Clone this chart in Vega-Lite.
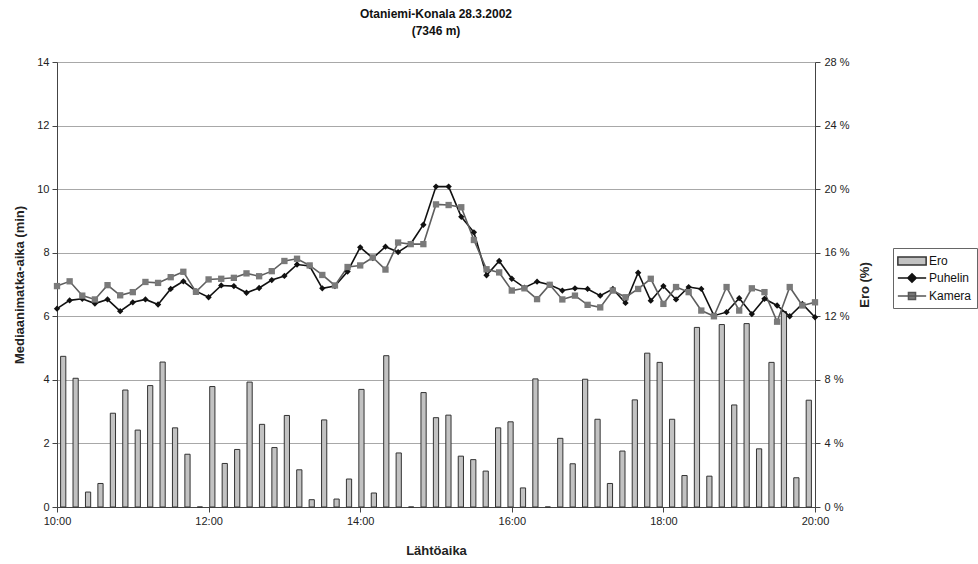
{
  "$schema": "https://vega.github.io/schema/vega-lite/v6.json",
  "width": 758,
  "height": 445,
  "autosize": {"type": "none"},
  "padding": {"left": 57, "top": 62, "right": 163, "bottom": 57},
  "background": "white",
  "title": {
    "text": ["Otaniemi-Konala 28.3.2002", "(7346 m)"],
    "font": "Liberation Sans",
    "fontSize": 12,
    "fontWeight": "bold",
    "lineHeight": 17,
    "color": "#111",
    "anchor": "middle",
    "offset": 18
  },
  "data": {
    "values": [
      {"min": 600, "Ero": 9.48, "Puhelin": 6.24, "Kamera": 6.95},
      {"min": 610, "Ero": 8.1, "Puhelin": 6.5, "Kamera": 7.1},
      {"min": 620, "Ero": 0.94, "Puhelin": 6.55, "Kamera": 6.65},
      {"min": 630, "Ero": 1.48, "Puhelin": 6.4, "Kamera": 6.53},
      {"min": 640, "Ero": 5.9, "Puhelin": 6.53, "Kamera": 6.98},
      {"min": 650, "Ero": 7.36, "Puhelin": 6.16, "Kamera": 6.66},
      {"min": 660, "Ero": 4.84, "Puhelin": 6.44, "Kamera": 6.76},
      {"min": 670, "Ero": 7.64, "Puhelin": 6.53, "Kamera": 7.08},
      {"min": 680, "Ero": 9.12, "Puhelin": 6.37, "Kamera": 7.05},
      {"min": 690, "Ero": 4.98, "Puhelin": 6.86, "Kamera": 7.23},
      {"min": 700, "Ero": 3.32, "Puhelin": 7.1, "Kamera": 7.4},
      {"min": 710, "Ero": 0, "Puhelin": 6.79, "Kamera": 6.77},
      {"min": 720, "Ero": 7.58, "Puhelin": 6.6, "Kamera": 7.16},
      {"min": 730, "Ero": 2.74, "Puhelin": 6.97, "Kamera": 7.18},
      {"min": 740, "Ero": 3.62, "Puhelin": 6.95, "Kamera": 7.21},
      {"min": 750, "Ero": 7.86, "Puhelin": 6.74, "Kamera": 7.35},
      {"min": 760, "Ero": 5.2, "Puhelin": 6.89, "Kamera": 7.26},
      {"min": 770, "Ero": 3.74, "Puhelin": 7.14, "Kamera": 7.42},
      {"min": 780, "Ero": 5.76, "Puhelin": 7.27, "Kamera": 7.74},
      {"min": 790, "Ero": 2.34, "Puhelin": 7.63, "Kamera": 7.81},
      {"min": 800, "Ero": 0.46, "Puhelin": 7.58, "Kamera": 7.6},
      {"min": 810, "Ero": 5.48, "Puhelin": 6.88, "Kamera": 7.3},
      {"min": 820, "Ero": 0.5, "Puhelin": 6.95, "Kamera": 6.97},
      {"min": 830, "Ero": 1.76, "Puhelin": 7.41, "Kamera": 7.55},
      {"min": 840, "Ero": 7.4, "Puhelin": 8.17, "Kamera": 7.6},
      {"min": 850, "Ero": 0.88, "Puhelin": 7.83, "Kamera": 7.85},
      {"min": 860, "Ero": 9.52, "Puhelin": 8.19, "Kamera": 7.47},
      {"min": 870, "Ero": 3.4, "Puhelin": 8.02, "Kamera": 8.32},
      {"min": 880, "Ero": 0, "Puhelin": 8.28, "Kamera": 8.27},
      {"min": 890, "Ero": 7.2, "Puhelin": 8.88, "Kamera": 8.27},
      {"min": 900, "Ero": 5.62, "Puhelin": 10.08, "Kamera": 9.52},
      {"min": 910, "Ero": 5.78, "Puhelin": 10.08, "Kamera": 9.5},
      {"min": 920, "Ero": 3.2, "Puhelin": 9.13, "Kamera": 9.43},
      {"min": 930, "Ero": 2.98, "Puhelin": 8.64, "Kamera": 8.4},
      {"min": 940, "Ero": 2.26, "Puhelin": 7.29, "Kamera": 7.48},
      {"min": 950, "Ero": 4.98, "Puhelin": 7.74, "Kamera": 7.38},
      {"min": 960, "Ero": 5.36, "Puhelin": 7.18, "Kamera": 6.81},
      {"min": 970, "Ero": 1.2, "Puhelin": 6.9, "Kamera": 6.88},
      {"min": 980, "Ero": 8.06, "Puhelin": 7.09, "Kamera": 6.54},
      {"min": 990, "Ero": 0, "Puhelin": 6.99, "Kamera": 6.99},
      {"min": 1000, "Ero": 4.32, "Puhelin": 6.81, "Kamera": 6.53},
      {"min": 1010, "Ero": 2.72, "Puhelin": 6.88, "Kamera": 6.65},
      {"min": 1020, "Ero": 8.04, "Puhelin": 6.86, "Kamera": 6.36},
      {"min": 1030, "Ero": 5.52, "Puhelin": 6.65, "Kamera": 6.28},
      {"min": 1040, "Ero": 1.48, "Puhelin": 6.86, "Kamera": 6.81},
      {"min": 1050, "Ero": 3.52, "Puhelin": 6.42, "Kamera": 6.6},
      {"min": 1060, "Ero": 6.74, "Puhelin": 7.37, "Kamera": 6.86},
      {"min": 1070, "Ero": 9.68, "Puhelin": 6.49, "Kamera": 7.18},
      {"min": 1080, "Ero": 9.1, "Puhelin": 6.95, "Kamera": 6.39},
      {"min": 1090, "Ero": 5.52, "Puhelin": 6.53, "Kamera": 6.92},
      {"min": 1100, "Ero": 1.98, "Puhelin": 6.92, "Kamera": 6.76},
      {"min": 1110, "Ero": 11.3, "Puhelin": 6.86, "Kamera": 6.18},
      {"min": 1120, "Ero": 1.94, "Puhelin": 6.02, "Kamera": 6.0},
      {"min": 1130, "Ero": 11.48, "Puhelin": 6.13, "Kamera": 6.92},
      {"min": 1140, "Ero": 6.42, "Puhelin": 6.57, "Kamera": 6.18},
      {"min": 1150, "Ero": 11.54, "Puhelin": 6.07, "Kamera": 6.88},
      {"min": 1160, "Ero": 3.66, "Puhelin": 6.55, "Kamera": 6.76},
      {"min": 1170, "Ero": 9.1, "Puhelin": 6.34, "Kamera": 5.83},
      {"min": 1180, "Ero": 12.3, "Puhelin": 6.0, "Kamera": 6.92},
      {"min": 1190, "Ero": 1.84, "Puhelin": 6.39, "Kamera": 6.34},
      {"min": 1200, "Ero": 6.72, "Puhelin": 5.97, "Kamera": 6.44}
    ]
  },
  "layer": [
    {
      "mark": {"type": "bar", "fill": "#c2c2c2", "stroke": "#333", "strokeWidth": 1},
      "encoding": {
        "x": {
          "field": "min",
          "type": "ordinal",
          "scale": {"type": "band", "paddingInner": 0.58, "paddingOuter": 0.29},
          "axis": null
        },
        "y": {
          "field": "Ero",
          "type": "quantitative",
          "scale": {"domain": [0, 28], "nice": false},
          "axis": {
            "orient": "right",
            "title": "Ero (%)",
            "titleAngle": 270,
            "titlePadding": 22,
            "values": [0, 4, 8, 12, 16, 20, 24, 28],
            "labelExpr": "datum.value + ' %'",
            "grid": false,
            "labelPadding": 4
          }
        }
      }
    },
    {
      "transform": [{"fold": ["Puhelin", "Kamera"], "as": ["sarja", "arvo"]}],
      "mark": {"type": "line", "strokeWidth": 1.6},
      "encoding": {
        "x": {
          "field": "min",
          "type": "quantitative",
          "scale": {"domain": [600, 1200], "nice": false, "zero": false},
          "axis": {
            "title": "Lähtöaika",
            "values": [600, 720, 840, 960, 1080, 1200],
            "labelExpr": "floor(datum.value / 60) + ':00'",
            "grid": false,
            "labelPadding": 3,
            "titlePadding": 18,
            "labelFlush": false
          }
        },
        "y": {
          "field": "arvo",
          "type": "quantitative",
          "scale": {"domain": [0, 14], "nice": false},
          "axis": {
            "title": "Mediaanimatka-aika (min)",
            "values": [0, 2, 4, 6, 8, 10, 12, 14],
            "grid": true,
            "titlePadding": 10,
            "labelPadding": 3
          }
        },
        "stroke": {
          "field": "sarja",
          "type": "nominal",
          "scale": {"domain": ["Puhelin", "Kamera"], "range": ["#111111", "#5e5e5e"]},
          "legend": null
        }
      }
    },
    {
      "transform": [{"fold": ["Puhelin", "Kamera"], "as": ["sarja", "arvo"]}],
      "mark": {"type": "point", "filled": true, "size": 40, "opacity": 1},
      "encoding": {
        "x": {
          "field": "min",
          "type": "quantitative",
          "scale": {"domain": [600, 1200], "nice": false, "zero": false},
          "axis": null
        },
        "y": {
          "field": "arvo",
          "type": "quantitative",
          "scale": {"domain": [0, 14], "nice": false},
          "axis": null
        },
        "shape": {
          "field": "sarja",
          "type": "nominal",
          "scale": {"domain": ["Puhelin", "Kamera"], "range": ["diamond", "square"]},
          "legend": null
        },
        "color": {
          "field": "sarja",
          "type": "nominal",
          "scale": {"domain": ["Puhelin", "Kamera"], "range": ["#111111", "#7a7a7a"]},
          "legend": null
        }
      }
    },
    {
      "transform": [
        {"fold": ["Ero", "Puhelin", "Kamera"], "as": ["sarja", "arvo"]},
        {"filter": "false"}
      ],
      "mark": {"type": "point", "filled": true, "opacity": 1},
      "encoding": {
        "x": {"field": "min", "type": "quantitative", "axis": null},
        "y": {"field": "arvo", "type": "quantitative", "axis": null},
        "shape": {
          "field": "sarja",
          "type": "nominal",
          "scale": {
            "domain": ["Ero", "Puhelin", "Kamera"],
            "range": [
              "M-2,-0.55H2V0.55H-2Z",
              "M-2,0H2M0,-0.6L0.6,0L0,0.6L-0.6,0Z",
              "M-2,0H2M-0.5,-0.5H0.5V0.5H-0.5Z"
            ]
          },
          "legend": {"title": null}
        },
        "color": {
          "field": "sarja",
          "type": "nominal",
          "scale": {"domain": ["Ero", "Puhelin", "Kamera"], "range": ["#c2c2c2", "#111111", "#7a7a7a"]},
          "legend": {"title": null}
        },
        "stroke": {
          "field": "sarja",
          "type": "nominal",
          "scale": {"domain": ["Ero", "Puhelin", "Kamera"], "range": ["#333333", "#111111", "#555555"]},
          "legend": {"title": null}
        }
      }
    }
  ],
  "resolve": {
    "scale": {
      "x": "independent",
      "y": "independent",
      "shape": "independent",
      "color": "independent",
      "stroke": "independent"
    }
  },
  "config": {
    "view": {"stroke": "#999", "strokeDash": [1, 2]},
    "axis": {
      "labelFont": "Liberation Sans",
      "labelFontSize": 11,
      "labelColor": "#222",
      "titleFont": "Liberation Sans",
      "titleFontSize": 13,
      "titleFontWeight": "bold",
      "titleColor": "#222",
      "domainColor": "#444",
      "tickColor": "#444",
      "tickSize": 5,
      "gridColor": "#a8a8a8",
      "gridWidth": 1
    },
    "legend": {
      "orient": "none",
      "legendX": 836,
      "legendY": 186,
      "symbolSize": 200,
      "symbolStrokeWidth": 1.5,
      "symbolOffset": 6,
      "labelOffset": 9,
      "labelFont": "Liberation Sans",
      "labelFontSize": 12,
      "labelColor": "#111",
      "rowPadding": 2,
      "padding": 5,
      "strokeColor": "#666",
      "fillColor": "white"
    }
  }
}
